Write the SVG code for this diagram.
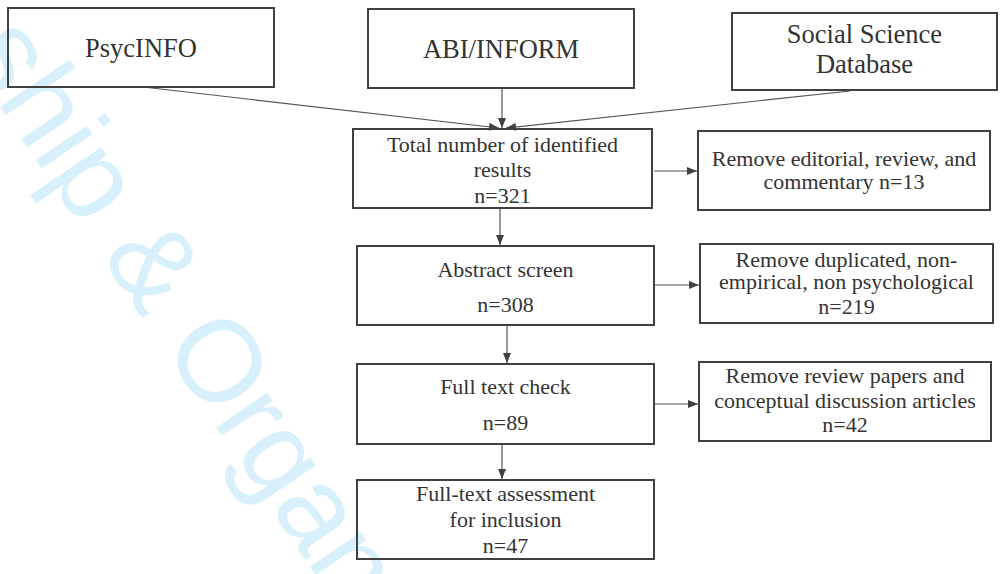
<svg xmlns="http://www.w3.org/2000/svg" width="1001" height="574" viewBox="0 0 1001 574">
<style>
.box{fill:none;stroke:#404040;stroke-width:2}
.t{font-family:"Liberation Serif","Times New Roman",serif;fill:#333;text-anchor:middle}
.big{font-size:26.5px}
.sm{font-size:22px}
.con{stroke:#555;stroke-width:1.2;fill:none}
.wm{font-family:"Liberation Sans",Arial,sans-serif;font-size:116px;fill:#d8f0fb}
</style>
<defs>
<marker id="ah" markerUnits="userSpaceOnUse" markerWidth="12" markerHeight="10" refX="10" refY="4" orient="auto">
<path d="M0,0 L10,4 L0,8 z" fill="#404040"/>
</marker>
</defs>
<rect width="1001" height="574" fill="#fff"/>
<text class="wm" transform="translate(-37,52) rotate(56)">ship &amp; Organ</text>
<g id="connectors">
<line class="con" x1="143" y1="87" x2="499" y2="128" marker-end="url(#ah)"/>
<line class="con" x1="502" y1="88" x2="502" y2="128" marker-end="url(#ah)"/>
<line class="con" x1="850" y1="91" x2="506" y2="128" marker-end="url(#ah)"/>
<line class="con" x1="654" y1="171" x2="697" y2="171" marker-end="url(#ah)"/>
<line class="con" x1="500" y1="209" x2="500" y2="245" marker-end="url(#ah)"/>
<line class="con" x1="655" y1="285" x2="699" y2="285" marker-end="url(#ah)"/>
<line class="con" x1="507" y1="326" x2="507" y2="363" marker-end="url(#ah)"/>
<line class="con" x1="655" y1="404" x2="698" y2="404" marker-end="url(#ah)"/>
<line class="con" x1="502" y1="445" x2="502" y2="479" marker-end="url(#ah)"/>
</g>
<g id="psycinfo">
<rect class="box" x="8" y="8" width="266" height="79"/>
<text class="t big" x="141" y="57">PsycINFO</text>
</g>
<g id="abiinform">
<rect class="box" x="368" y="9" width="266" height="79"/>
<text class="t big" x="501" y="58">ABI/INFORM</text>
</g>
<g id="socialscience">
<rect class="box" x="732" y="13" width="265" height="77"/>
<text class="t big" x="864.5" y="43">Social  Science</text>
<text class="t big" x="864.5" y="73">Database</text>
</g>
<g id="total">
<rect class="box" x="353" y="129" width="299" height="79"/>
<text class="t sm" x="502.5" y="152">Total number of identified</text>
<text class="t sm" x="502.5" y="177">results</text>
<text class="t sm" x="502.5" y="203">n=321</text>
</g>
<g id="abstract">
<rect class="box" x="357" y="246" width="297" height="79"/>
<text class="t sm" x="505.5" y="277">Abstract screen</text>
<text class="t sm" x="505.5" y="312">n=308</text>
</g>
<g id="fulltext">
<rect class="box" x="357" y="364" width="297" height="80"/>
<text class="t sm" x="505.5" y="394">Full text  check</text>
<text class="t sm" x="505.5" y="430">n=89</text>
</g>
<g id="assessment">
<rect class="box" x="357" y="480" width="297" height="79"/>
<text class="t sm" x="505.5" y="501">Full-text assessment</text>
<text class="t sm" x="505.5" y="527">for inclusion</text>
<text class="t sm" x="505.5" y="553">n=47</text>
</g>
<g id="remove-editorial">
<rect class="box" x="698" y="131" width="292" height="79"/>
<text class="t sm" x="844" y="166">Remove editorial, review, and</text>
<text class="t sm" x="844" y="189">commentary n=13</text>
</g>
<g id="remove-duplicated">
<rect class="box" x="700" y="244" width="293" height="79"/>
<text class="t sm" x="846.5" y="267">Remove duplicated, non-</text>
<text class="t sm" x="846.5" y="289">empirical, non psychological</text>
<text class="t sm" x="846.5" y="314">n=219</text>
</g>
<g id="remove-review">
<rect class="box" x="699" y="362" width="292" height="79"/>
<text class="t sm" x="845" y="383">Remove review papers and</text>
<text class="t sm" x="845" y="408">conceptual discussion articles</text>
<text class="t sm" x="845" y="432">n=42</text>
</g>
</svg>
